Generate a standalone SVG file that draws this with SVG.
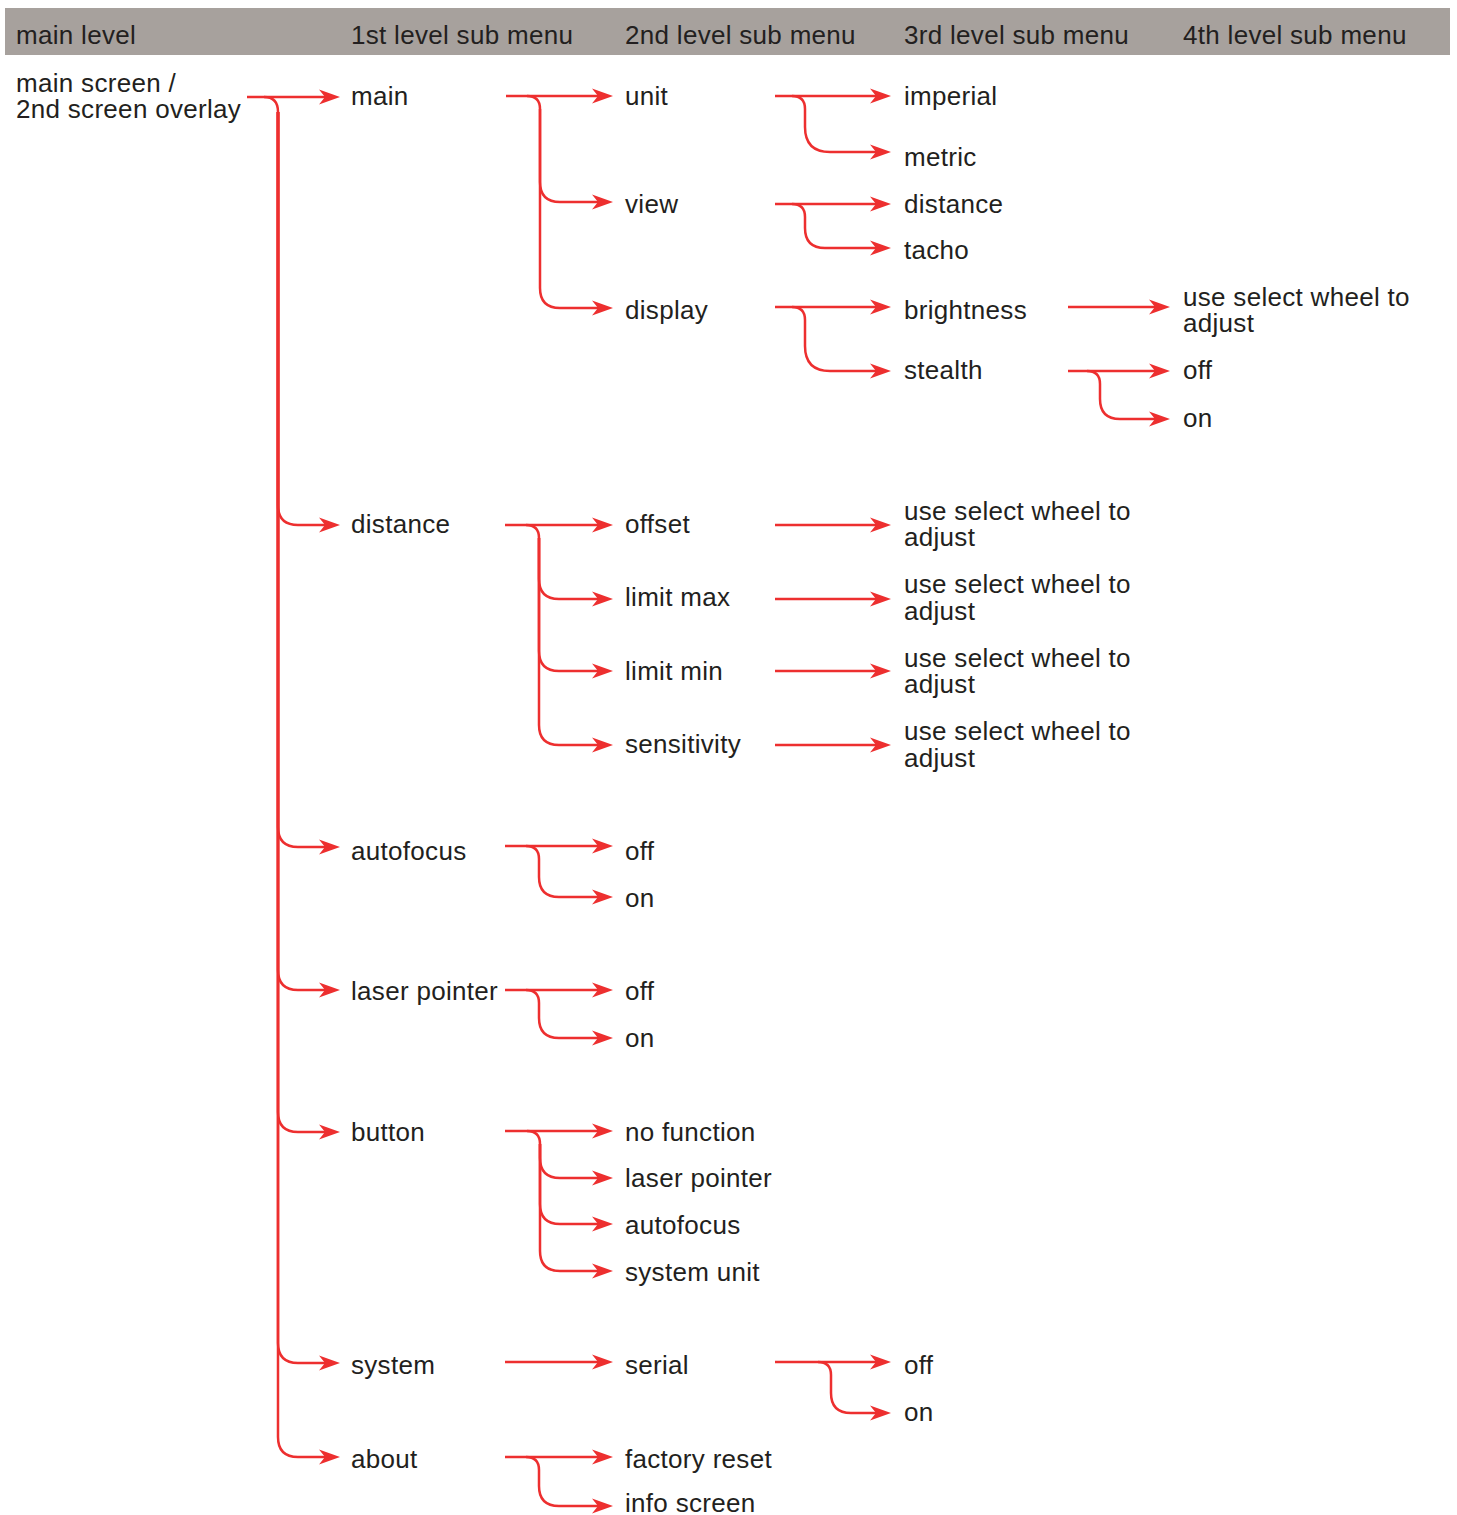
<svg xmlns="http://www.w3.org/2000/svg" width="1457" height="1515" viewBox="0 0 1457 1515">
<style>
text{font-family:"Liberation Sans",Arial,sans-serif;font-size:26px;letter-spacing:0.3px;fill:#231f20}
.c path{fill:none;stroke:#ed2f2f;stroke-width:2.5}
.a{marker-end:url(#ah)}
</style>
<defs>
<marker id="ah" viewBox="-13 -9 23 18" refX="0" refY="0" markerWidth="23" markerHeight="18" markerUnits="userSpaceOnUse" orient="auto">
<path d="M8,0 L-13,-7.5 L-7,0 L-13,7.5 Z" fill="#ed2f2f"/>
</marker>
</defs>
<rect x="0" y="0" width="1457" height="1515" fill="#ffffff"/>
<g id="header">
<rect x="5" y="8" width="1445" height="47" fill="#a7a19d"/>
<text x="16" y="44">main level</text>
<text x="351" y="44">1st level sub menu</text>
<text x="625" y="44">2nd level sub menu</text>
<text x="904" y="44">3rd level sub menu</text>
<text x="1183" y="44">4th level sub menu</text>
</g>
<g id="connectors" class="c">
<path class="a" d="M247,97 H332"/>
<path d="M264,97 Q278,97 278,112"/>
<path class="a" d="M278,112 V505 Q278,525 298,525 H332"/>
<path class="a" d="M278,112 V827 Q278,847 298,847 H332"/>
<path class="a" d="M278,112 V970 Q278,990 298,990 H332"/>
<path class="a" d="M278,112 V1112 Q278,1132 298,1132 H332"/>
<path class="a" d="M278,112 V1343 Q278,1363 298,1363 H332"/>
<path class="a" d="M278,112 V1437 Q278,1457 298,1457 H332"/>
<path class="a" d="M506,96 H605"/>
<path d="M527,96 Q540,96 540,109"/>
<path class="a" d="M540,109 V182 Q540,202 560,202 H605"/>
<path class="a" d="M540,109 V288 Q540,308 560,308 H605"/>
<path class="a" d="M505,525 H605"/>
<path d="M526,525 Q539,525 539,538"/>
<path class="a" d="M539,538 V579 Q539,599 559,599 H605"/>
<path class="a" d="M539,538 V651 Q539,671 559,671 H605"/>
<path class="a" d="M539,538 V725 Q539,745 559,745 H605"/>
<path class="a" d="M505,846 H605"/>
<path class="a" d="M526,846 Q539,846 539,859 V877 Q539,897 559,897 H605"/>
<path class="a" d="M505,990 H605"/>
<path class="a" d="M526,990 Q539,990 539,1003 V1018 Q539,1038 559,1038 H605"/>
<path class="a" d="M505,1131 H605"/>
<path d="M527,1131 Q540,1131 540,1144"/>
<path class="a" d="M540,1144 V1158 Q540,1178 560,1178 H605"/>
<path class="a" d="M540,1144 V1204 Q540,1224 560,1224 H605"/>
<path class="a" d="M540,1144 V1251 Q540,1271 560,1271 H605"/>
<path class="a" d="M505,1362 H605"/>
<path class="a" d="M505,1457 H605"/>
<path class="a" d="M526,1457 Q539,1457 539,1470 V1486 Q539,1506 559,1506 H605"/>
<path class="a" d="M775,96 H883"/>
<path class="a" d="M792,96 Q805,96 805,109 V127 Q805,152 830,152 H883"/>
<path class="a" d="M775,204 H883"/>
<path class="a" d="M792,204 Q805,204 805,217 V228 Q805,248 825,248 H883"/>
<path class="a" d="M775,307 H883"/>
<path class="a" d="M792,307 Q805,307 805,320 V346 Q805,371 830,371 H883"/>
<path class="a" d="M775,525 H883"/>
<path class="a" d="M775,599 H883"/>
<path class="a" d="M775,671 H883"/>
<path class="a" d="M775,745 H883"/>
<path class="a" d="M775,1362 H883"/>
<path class="a" d="M818,1362 Q831,1362 831,1375 V1393 Q831,1413 851,1413 H883"/>
<path class="a" d="M1068,307 H1162"/>
<path class="a" d="M1068,371 H1162"/>
<path class="a" d="M1087,371 Q1100,371 1100,384 V399 Q1100,419 1120,419 H1162"/>
</g>
<g id="n-mainscreen"><text x="16" y="92">main screen /</text><text x="16" y="118">2nd screen overlay</text></g>
<g id="n-main"><text x="351" y="105">main</text></g>
<g id="n-distance"><text x="351" y="533">distance</text></g>
<g id="n-autofocus"><text x="351" y="860">autofocus</text></g>
<g id="n-laserpointer"><text x="351" y="1000">laser pointer</text></g>
<g id="n-button"><text x="351" y="1141">button</text></g>
<g id="n-system"><text x="351" y="1374">system</text></g>
<g id="n-about"><text x="351" y="1468">about</text></g>
<g id="n-unit"><text x="625" y="105">unit</text></g>
<g id="n-view"><text x="625" y="213">view</text></g>
<g id="n-display"><text x="625" y="319">display</text></g>
<g id="n-offset"><text x="625" y="533">offset</text></g>
<g id="n-limitmax"><text x="625" y="606">limit max</text></g>
<g id="n-limitmin"><text x="625" y="680">limit min</text></g>
<g id="n-sensitivity"><text x="625" y="753">sensitivity</text></g>
<g id="n-af-off"><text x="625" y="860">off</text></g>
<g id="n-af-on"><text x="625" y="907">on</text></g>
<g id="n-lp-off"><text x="625" y="1000">off</text></g>
<g id="n-lp-on"><text x="625" y="1047">on</text></g>
<g id="n-nofunction"><text x="625" y="1141">no function</text></g>
<g id="n-btn-laser"><text x="625" y="1187">laser pointer</text></g>
<g id="n-btn-af"><text x="625" y="1234">autofocus</text></g>
<g id="n-systemunit"><text x="625" y="1281">system unit</text></g>
<g id="n-serial"><text x="625" y="1374">serial</text></g>
<g id="n-factoryreset"><text x="625" y="1468">factory reset</text></g>
<g id="n-infoscreen"><text x="625" y="1512">info screen</text></g>
<g id="n-imperial"><text x="904" y="105">imperial</text></g>
<g id="n-metric"><text x="904" y="166">metric</text></g>
<g id="n-view-distance"><text x="904" y="213">distance</text></g>
<g id="n-tacho"><text x="904" y="259">tacho</text></g>
<g id="n-brightness"><text x="904" y="319">brightness</text></g>
<g id="n-stealth"><text x="904" y="379">stealth</text></g>
<g id="n-offset-adj"><text x="904" y="520">use select wheel to</text><text x="904" y="546">adjust</text></g>
<g id="n-limitmax-adj"><text x="904" y="593">use select wheel to</text><text x="904" y="620">adjust</text></g>
<g id="n-limitmin-adj"><text x="904" y="667">use select wheel to</text><text x="904" y="693">adjust</text></g>
<g id="n-sens-adj"><text x="904" y="740">use select wheel to</text><text x="904" y="767">adjust</text></g>
<g id="n-serial-off"><text x="904" y="1374">off</text></g>
<g id="n-serial-on"><text x="904" y="1421">on</text></g>
<g id="n-bright-adj"><text x="1183" y="306">use select wheel to</text><text x="1183" y="332">adjust</text></g>
<g id="n-stealth-off"><text x="1183" y="379">off</text></g>
<g id="n-stealth-on"><text x="1183" y="427">on</text></g>
</svg>
